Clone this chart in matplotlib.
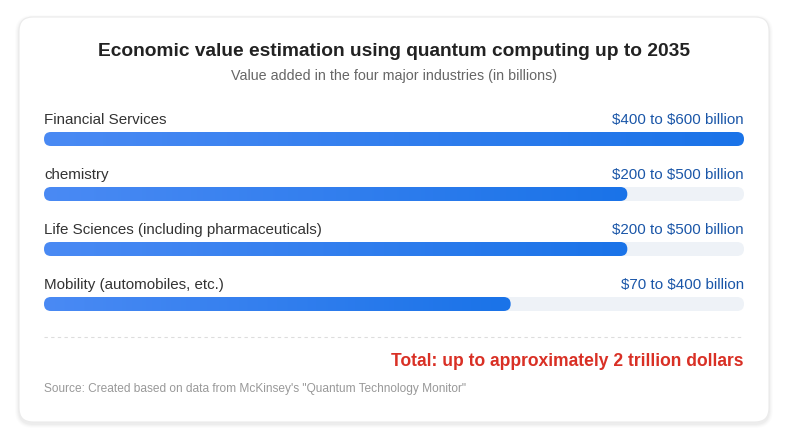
import numpy as np
import matplotlib.pyplot as plt
from matplotlib.patches import FancyBboxPatch
from matplotlib.colors import LinearSegmentedColormap

plt.rcParams['font.family'] = ['Liberation Sans', 'DejaVu Sans']

# data
industries = ['Financial Services', 'chemistry',
              'Life Sciences (including pharmaceuticals)', 'Mobility (automobiles, etc.)']
low = [400, 200, 200, 70]
high = [600, 500, 500, 400]
max_value = 600

title = 'Economic value estimation using quantum computing up to 2035'
subtitle = 'Value added in the four major industries (in billions)'
total_text = 'Total: up to approximately 2 trillion dollars'
source_text = 'Source: Created based on data from McKinsey\'s "Quantum Technology Monitor"'

W, H = 788, 446
fig = plt.figure(figsize=(W / 100, H / 100), dpi=100)
fig.patch.set_facecolor('white')

# background axes in pixel coords
bg = fig.add_axes([0, 0, 1, 1])
bg.set_xlim(0, W)
bg.set_ylim(H, 0)
bg.axis('off')

# card with soft shadow
for i, a in enumerate([0.025, 0.02, 0.015, 0.01]):
    s = i + 1
    bg.add_patch(FancyBboxPatch((19 - s, 17 - s + 2), 750 + 2 * s, 405 + 2 * s,
                                boxstyle='round,pad=0,rounding_size=%d' % (14 + s),
                                fc='black', ec='none', alpha=a))
bg.add_patch(FancyBboxPatch((19, 17), 750, 405, boxstyle='round,pad=0,rounding_size=14',
                            fc='white', ec='#ebebeb', lw=0.8))

bg.text(394, 52, title, ha='center', va='center', fontsize=13.8, fontweight='bold', color='#222222')
bg.text(394, 76, subtitle, ha='center', va='center', fontsize=10.3, color='#666666')

row_y = [139, 194, 249, 304]
for name, lo, hi, y in zip(industries, low, high, row_y):
    bg.text(44, y - 19, name, ha='left', va='center', fontsize=10.9, color='#333333')
    bg.text(744, y - 19, '\\$%d to \\$%d billion' % (lo, hi), ha='right', va='center',
            fontsize=10.9, color='#1a56a8')

bg.plot([44, 744], [337, 337], color='#dddddd', lw=0.8, ls=(0, (3, 3)))
bg.text(744, 362, total_text, ha='right', va='center', fontsize=12.65, fontweight='bold', color='#d93025')
bg.text(44, 389, source_text, ha='left', va='center', fontsize=8.6, color='#999999')

# bar axes: x in value units, y in pixels
left_px, right_px = 44, 744
top_px, bot_px = 120, 320
ax = fig.add_axes([left_px / W, 1 - bot_px / H, (right_px - left_px) / W, (bot_px - top_px) / H])
ax.axis('off')
ax.patch.set_alpha(0)

px_per_unit = (right_px - left_px) / max_value
bar_h = 14
r_units = (bar_h / 2) / px_per_unit
aspect = (bar_h / 2) / r_units

cmap = LinearSegmentedColormap.from_list('bar', ['#4a8af4', '#1a73e8'])
grad = np.linspace(0, 1, 256).reshape(1, -1)

for hi, y in zip(high, row_y):
    track = FancyBboxPatch((0, y - bar_h / 2), max_value, bar_h,
                           boxstyle='round,pad=0,rounding_size=%f' % r_units,
                           mutation_aspect=aspect, fc='#eef2f7', ec='none', zorder=1)
    ax.add_patch(track)
    fill = FancyBboxPatch((0, y - bar_h / 2), hi, bar_h,
                          boxstyle='round,pad=0,rounding_size=%f' % r_units,
                          mutation_aspect=aspect, fc='none', ec='none', zorder=1)
    ax.add_patch(fill)
    im = ax.imshow(grad, cmap=cmap, aspect='auto', extent=(0, hi, y + bar_h / 2, y - bar_h / 2),
                   interpolation='bilinear', zorder=2)
    im.set_clip_path(fill)

ax.set_xlim(0, max_value)
ax.set_ylim(bot_px, top_px)

fig.savefig('out.png', dpi=100)
